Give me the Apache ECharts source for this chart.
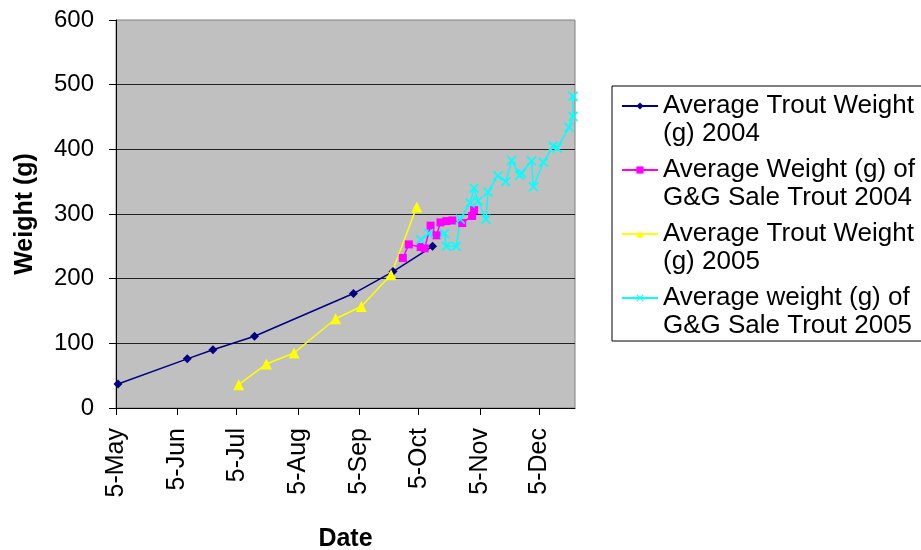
<!DOCTYPE html>
<html>
<head>
<meta charset="utf-8">
<script src="https://cdn.jsdelivr.net/npm/echarts@6/dist/echarts.min.js"></script>
<style>
  html, body { margin: 0; padding: 0; background: #ffffff; }
  #chart { width: 921px; height: 550px; }
</style>
</head>
<body>
<div id="chart"></div>
<script>
// ---- data (month-day; all plotted on one seasonal date axis) ----
const seriesNames = [
  'Average Trout Weight\n(g) 2004',
  'Average Weight (g) of\nG&G Sale Trout 2004',
  'Average Trout Weight\n(g) 2005',
  'Average weight (g) of\nG&G Sale Trout 2005'
];

const trout2004Dates = ['05-06', '06-10', '06-23', '07-14', '09-02', '09-22', '10-12'];
const trout2004Weights = [37, 76, 90, 111, 177, 211, 250];

const gg2004Dates = ['09-27', '09-30', '10-06', '10-08', '10-11', '10-14', '10-16', '10-19', '10-22', '10-27', '11-01', '11-02'];
const gg2004Weights = [232, 253, 249, 247, 282, 267, 287, 289, 290, 286, 297, 306];

const trout2005Dates = ['07-06', '07-20', '08-03', '08-24', '09-06', '09-21', '10-04'];
const trout2005Weights = [36, 68, 85, 138, 157, 206, 311];

const gg2005Dates = ['10-06', '10-10', '10-18', '10-19', '10-24', '10-26', '10-31', '11-02', '11-04', '11-08', '11-09', '11-14',
                     '11-18', '11-21', '11-25', '11-26', '12-01', '12-02', '12-07', '12-12', '12-14', '12-20', '12-22', '12-22'];
const gg2005Weights = [260, 270, 270, 250, 250, 292, 317, 340, 320, 292, 334, 359,
                       350, 383, 360, 363, 382, 342, 380, 405, 402, 434, 451, 482];

const tickDates = ['05-05', '06-05', '07-05', '08-05', '09-05', '10-05', '11-05', '12-05'];
const monthAbbr = ['Jan', 'Feb', 'Mar', 'Apr', 'May', 'Jun', 'Jul', 'Aug', 'Sep', 'Oct', 'Nov', 'Dec'];
const axisStart = '05-05';
const axisEnd = '12-23';
const yTicks = [0, 100, 200, 300, 400, 500, 600];

// ---- helpers ----
const YEAR = 2005;
function toTs(md) {
  const parts = md.split('-').map(Number);
  return Date.UTC(YEAR, parts[0] - 1, parts[1]);
}
function pairs(dates, vals) {
  return dates.map((d, i) => [toTs(d), vals[i]]);
}
const FONT = '"Liberation Sans", Arial, sans-serif';
const xPath = 'path://M0,1.2 L1.2,0 L5,3.8 L8.8,0 L10,1.2 L6.2,5 L10,8.8 L8.8,10 L5,6.2 L1.2,10 L0,8.8 L3.8,5 Z';
const tickVals = tickDates.map(toTs);

const chart = echarts.init(document.getElementById('chart'), null, { renderer: 'canvas' });

const legendText = { fontFamily: FONT, fontSize: 26, lineHeight: 28, color: '#000000' };

const option = {
  animation: false,
  backgroundColor: '#ffffff',
  textStyle: { fontFamily: FONT },
  grid: {
    left: 116, right: 346, top: 20, bottom: 142,
    outerBoundsMode: 'none',
    containLabel: false,
    show: true,
    backgroundColor: '#c0c0c0',
    borderColor: '#808080',
    borderWidth: 1
  },
  legend: {
    orient: 'vertical',
    left: 612,
    top: 86,
    padding: [-22, 12, 1, 9],
    itemGap: -20,
    itemWidth: 36,
    itemHeight: 9,
    borderColor: '#000000',
    borderWidth: 1,
    backgroundColor: '#ffffff',
    formatter: function (name) {
      const lines = name.split('\n');
      return '{s| }\n{t|' + lines[0] + '}\n{t|' + lines[1] + '}';
    },
    textStyle: {
      fontFamily: FONT,
      fontSize: 26,
      lineHeight: 28,
      color: '#000000',
      rich: { s: legendText, t: legendText }
    },
    data: seriesNames
  },
  xAxis: {
    type: 'value',
    min: toTs(axisStart),
    max: toTs(axisEnd),
    name: 'Date',
    nameLocation: 'middle',
    nameGap: 119,
    nameTextStyle: { fontFamily: FONT, fontSize: 25, fontWeight: 'bold', color: '#000' },
    axisLine: { show: true, onZero: false, lineStyle: { color: '#000', width: 1 } },
    axisTick: {
      show: true, inside: false, length: 7,
      customValues: tickVals,
      lineStyle: { color: '#000', width: 1 }
    },
    axisLabel: {
      show: true,
      customValues: tickVals,
      rotate: 90,
      margin: 20,
      fontFamily: FONT,
      fontSize: 25,
      color: '#000',
      formatter: function (v) {
        const d = new Date(v);
        return d.getUTCDate() + '-' + monthAbbr[d.getUTCMonth()];
      }
    },
    splitLine: { show: false }
  },
  yAxis: {
    type: 'value',
    min: yTicks[0],
    max: yTicks[yTicks.length - 1],
    interval: 100,
    name: 'Weight (g)',
    nameLocation: 'middle',
    nameGap: 78,
    nameTextStyle: { fontFamily: FONT, fontSize: 25, fontWeight: 'bold', color: '#000' },
    axisLine: { show: true, lineStyle: { color: '#000', width: 1 } },
    axisTick: { show: true, inside: false, length: 7, lineStyle: { color: '#000', width: 1 } },
    axisLabel: { margin: 22, fontFamily: FONT, fontSize: 24, color: '#000' },
    splitLine: { show: true, showMinLine: false, showMaxLine: false, lineStyle: { color: '#222222', width: 1 } }
  },
  series: [
    {
      name: seriesNames[0], type: 'line',
      data: pairs(trout2004Dates, trout2004Weights),
      symbol: 'diamond', symbolSize: 9,
      lineStyle: { color: '#000080', width: 1.5 },
      itemStyle: { color: '#000080' }
    },
    {
      name: seriesNames[1], type: 'line',
      data: pairs(gg2004Dates, gg2004Weights),
      symbol: 'rect', symbolSize: 8,
      lineStyle: { color: '#ff00ff', width: 1.5 },
      itemStyle: { color: '#ff00ff' }
    },
    {
      name: seriesNames[2], type: 'line',
      data: pairs(trout2005Dates, trout2005Weights),
      symbol: 'triangle', symbolSize: 11,
      lineStyle: { color: '#ffff00', width: 1.5 },
      itemStyle: { color: '#ffff00' }
    },
    {
      name: seriesNames[3], type: 'line',
      data: pairs(gg2005Dates, gg2005Weights),
      symbol: xPath, symbolSize: 10,
      lineStyle: { color: '#00ffff', width: 1.5 },
      itemStyle: { color: '#00ffff' }
    }
  ]
};

chart.setOption(option);
</script>
</body>
</html>
